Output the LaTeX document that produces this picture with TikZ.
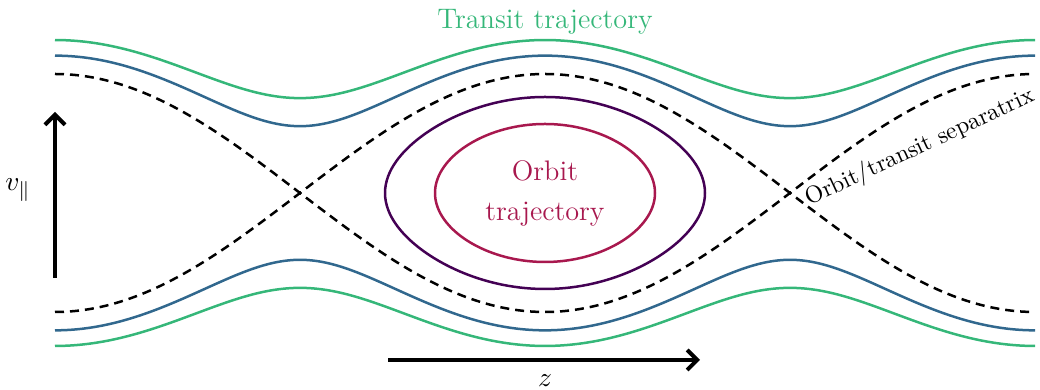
\documentclass[tikz,border=0pt]{standalone}
\usetikzlibrary{arrows.meta}
\definecolor{transitgreen}{RGB}{53,183,121}
\definecolor{transitblue}{RGB}{49,104,142}
\definecolor{orbitpurple}{RGB}{68,1,84}
\definecolor{orbitred}{RGB}{168,24,78}
\tikzset{
  curve/.style={line width=1pt, line join=round},
  separatrix/.style={line width=1pt, dash pattern=on 3.6pt off 2.4pt},
  axisarrow/.style={line width=1.6pt, -{Straight Barb[length=4pt,width=8pt,line width=1.6pt]}},
  lbl/.style={font=\fontsize{11.3}{16}\selectfont, inner sep=0pt},
}
% horizontal scale: 490 units per 360 degrees of phase
\def\hs{1.36111}
\begin{document}
\begin{tikzpicture}[x=0.4pt, y=-0.4pt]
\useasboundingbox (0,0) rectangle (1040,390);

% transit (passing) trajectories
\foreach \E/\col in {2.25/transitgreen, 1.62/transitblue}{
  \draw[curve, \col] plot[domain=-360:360, samples=145, smooth]
    ({545+\x*\hs}, {193-60*sqrt(2*(\E+cos(\x)))});
  \draw[curve, \col] plot[domain=-360:360, samples=145, smooth]
    ({545+\x*\hs}, {193+60*sqrt(2*(\E+cos(\x)))});
}

% separatrices
\draw[separatrix] plot[domain=-360:360, samples=145, smooth]
  ({545+\x*\hs}, {193-119*cos(\x/2)});
\draw[separatrix] plot[domain=-360:360, samples=145, smooth]
  ({545+\x*\hs}, {193+119*cos(\x/2)});

% trapped (orbit) trajectories: x ~ asin(k sin phi), y ~ cos phi
\draw[curve, orbitpurple] plot[domain=0:360, samples=145, smooth cycle]
  ({545+160*asin(0.72*sin(\x))/asin(0.72)}, {193-96*cos(\x)});
\draw[curve, orbitred] plot[domain=0:360, samples=145, smooth cycle]
  ({545+110*asin(0.5*sin(\x))/asin(0.5)}, {193-69*cos(\x)});

% labels
\node[lbl, text=transitgreen] (transit) at (545,22) {Transit trajectory};
\node[lbl, text=orbitred, align=center] (orbit) at (545,193) {Orbit\\trajectory};
\node[lbl, font=\fontsize{9.5}{12}\selectfont, rotate=25, anchor=base west] (sep) at (809,206) {Orbit/transit separatrix};

% axes
\coordinate (vstart) at (55,278);
\coordinate (vend) at (55,112);
\coordinate (zstart) at (388,360);
\coordinate (zend) at (700,360);
\draw[axisarrow] (vstart) -- (vend);
\draw[axisarrow] (zstart) -- (zend);
\node[lbl] (vlabel) at (18,190) {$v_\parallel$};
\node[lbl] (zlabel) at (545,381) {$z$};
\end{tikzpicture}
\end{document}
